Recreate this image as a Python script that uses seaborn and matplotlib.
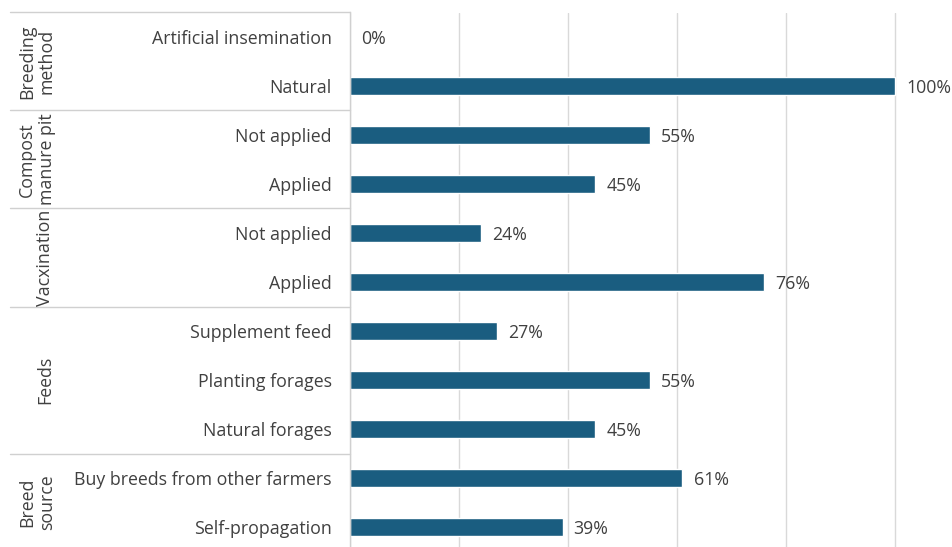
import matplotlib
matplotlib.use("Agg")
import matplotlib.pyplot as plt
import matplotlib.transforms as mtransforms
import seaborn as sns
import pandas as pd

# Survey results: share of farmers per practice (%)
groups = ["Breeding\nmethod", "Compost\nmanure pit", "Vacxination", "Feeds", "Breed\nsource"]
group_sizes = [2, 2, 2, 3, 2]
categories = ["Artificial insemination", "Natural",
              "Not applied", "Applied",
              "Not applied", "Applied",
              "Supplement feed", "Planting forages", "Natural forages",
              "Buy breeds from other farmers", "Self-propagation"]
values = [0, 100, 55, 45, 24, 76, 27, 55, 45, 61, 39]

rows = list(range(len(categories)))
df = pd.DataFrame({"row": [str(r) for r in rows], "value": values})

sns.set_theme(style="white")
plt.rcParams["font.family"] = ["Open Sans", "DejaVu Sans"]

W, H = 952, 547
fig = plt.figure(figsize=(W / 100, H / 100), dpi=100)
left_px, right_px, top_px = 350, 952, 12.5
ax = fig.add_axes([left_px / W, 0, (right_px - left_px) / W, 1 - top_px / H])

bar_color = "#1a5d80"
sns.barplot(data=df, x="value", y="row", orient="h", color=bar_color,
            width=0.35, ax=ax, saturation=1)

row_h = (H - top_px) / 49.0
ax.set_ylim(-0.5 + row_h, -0.5)
ax.set_xlim(0, (right_px - left_px) / 5.45)
ax.set_xticks([0, 20, 40, 60, 80, 100])
ax.xaxis.grid(True, color="#d9d9d9", linewidth=1)
ax.set_axisbelow(True)
ax.tick_params(axis="x", bottom=False, labelbottom=False)
ax.tick_params(axis="y", length=0, pad=13, labelsize=12.8, labelcolor="#404040")
ax.set_yticks(rows)
ax.set_yticklabels(categories)
ax.set_xlabel("")
ax.set_ylabel("")
for side in ["top", "right", "bottom"]:
    ax.spines[side].set_visible(False)
ax.spines["left"].set_color("#d0d0d0")
ax.spines["left"].set_linewidth(1)

for cont in ax.containers:
    texts = ax.bar_label(cont, labels=[f"{v}%" for v in values], padding=8,
                         fontsize=12.8, color="#404040")
    for t in texts:
        t.set_va("center_baseline")

# Group brackets on the category axis
trans = mtransforms.blended_transform_factory(fig.transFigure, ax.transData)
start = 0
bounds = [-0.5]
for g, n in zip(groups, group_sizes):
    mid = start + (n - 1) / 2
    xpx = 37 if "\n" in g else 45
    ax.text(xpx / W, mid, g, transform=trans, rotation=90, ha="center",
            va="center", fontsize=12.8, color="#404040", linespacing=1.1,
            multialignment="center", clip_on=False)
    start += n
    bounds.append(start - 0.5)
for b in bounds:
    ax.plot([10 / W, left_px / W], [b, b], transform=trans, color="#d0d0d0",
            linewidth=1, clip_on=False)

fig.savefig("out.png", dpi=100, facecolor="white")
